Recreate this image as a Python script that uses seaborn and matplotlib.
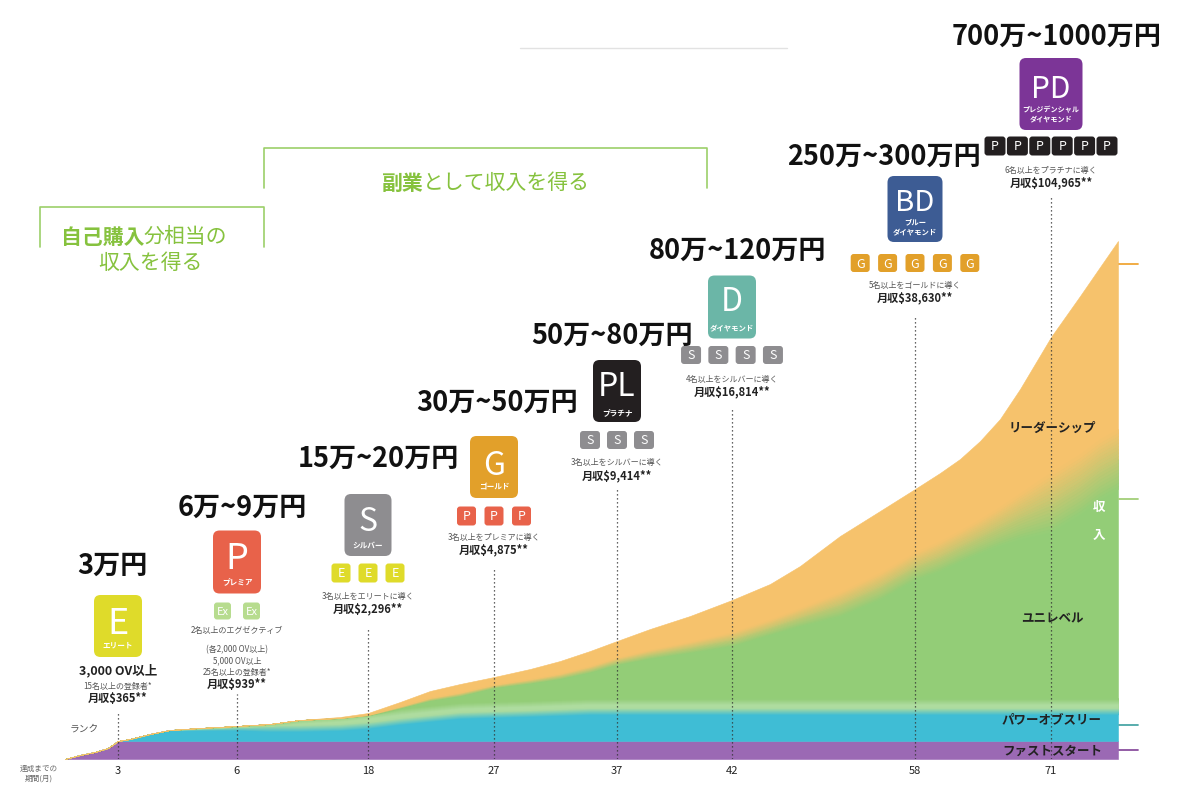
import numpy as np
import matplotlib
matplotlib.use("Agg")
import matplotlib.pyplot as plt
import matplotlib.colors as mcolors
from matplotlib.patches import FancyBboxPatch
import seaborn as sns

# ---------------- data ----------------
timeline = [0.00, 0.15, 0.30, 0.43, 0.53, 0.65, 0.85, 1.05, 1.35, 1.72, 2.05, 2.35,
            2.75, 3.03, 3.35, 3.65, 3.95, 4.29, 4.65, 4.95, 5.25, 5.52, 5.85, 6.25,
            6.67, 7.05, 7.35, 7.75, 8.15, 8.50, 8.75, 8.95, 9.15, 9.35, 9.55, 9.86,
            10.15, 10.35, 10.53]
fast_start = [0.00, 0.04, 0.07, 0.11, 0.18, 0.18, 0.18, 0.18, 0.18, 0.18, 0.18, 0.18,
              0.18, 0.18, 0.18, 0.18, 0.18, 0.18, 0.18, 0.18, 0.18, 0.18, 0.18, 0.18,
              0.18, 0.18, 0.18, 0.18, 0.18, 0.18, 0.18, 0.18, 0.18, 0.18, 0.18, 0.18,
              0.18, 0.18, 0.18]
power_of_three = [0.00, 0.00, 0.00, 0.00, 0.00, 0.02, 0.07, 0.11, 0.12, 0.13, 0.13, 0.13,
                  0.14, 0.16, 0.20, 0.23, 0.26, 0.27, 0.28, 0.29, 0.30, 0.30, 0.30, 0.30,
                  0.30, 0.30, 0.30, 0.30, 0.30, 0.30, 0.30, 0.30, 0.30, 0.30, 0.30, 0.30,
                  0.30, 0.30, 0.30]
unilevel = [0.00, 0.00, 0.00, 0.00, 0.00, 0.00, 0.00, 0.00, 0.01, 0.02, 0.04, 0.08,
            0.09, 0.10, 0.14, 0.19, 0.21, 0.28, 0.32, 0.36, 0.42, 0.50, 0.57, 0.64,
            0.72, 0.84, 0.94, 1.07, 1.25, 1.45, 1.55, 1.65, 1.75, 1.85, 1.95, 2.09,
            2.27, 2.42, 2.52]
leadership = [0.00, 0.00, 0.00, 0.00, 0.00, 0.00, 0.00, 0.00, 0.00, 0.00, 0.00, 0.00,
              0.01, 0.02, 0.05, 0.08, 0.10, 0.09, 0.12, 0.15, 0.18, 0.20, 0.25, 0.31,
              0.39, 0.43, 0.51, 0.68, 0.75, 0.77, 0.83, 0.87, 0.95, 1.07, 1.27, 1.65,
              1.88, 2.02, 2.18]
layer_names = ["ファストスタート", "パワーオブスリー", "ユニレベル", "リーダーシップ"]

rank_pos = [0.53, 1.72, 3.03, 4.29, 5.52, 6.67, 8.50, 9.86]
months = ["3", "6", "18", "27", "37", "42", "58", "71"]
rank_codes = ["E", "P", "S", "G", "PL", "D", "BD", "PD"]
rank_names = [["エリート"], ["プレミア"], ["シルバー"], ["ゴールド"], ["プラチナ"],
              ["ダイヤモンド"], ["ブルー", "ダイヤモンド"], ["プレジデンシャル", "ダイヤモンド"]]
income_ranges = ["3万円", "6万~9万円", "15万~20万円", "30万~50万円", "50万~80万円",
                 "80万~120万円", "250万~300万円", "700万~1000万円"]
requirements = [
    ["3,000 OV以上", "15名以上の登録者*"],
    ["2名以上のエグゼクティブ", "(各2,000 OV以上)", "5,000 OV以上", "25名以上の登録者*"],
    ["3名以上をエリートに導く"],
    ["3名以上をプレミアに導く"],
    ["3名以上をシルバーに導く"],
    ["4名以上をシルバーに導く"],
    ["5名以上をゴールドに導く"],
    ["6名以上をプラチナに導く"],
]
monthly_income = ["月収$365**", "月収$939**", "月収$2,296**", "月収$4,875**",
                  "月収$9,414**", "月収$16,814**", "月収$38,630**", "月収$104,965**"]
sub_badges = [[], ["Ex", "Ex"], ["E", "E", "E"], ["P", "P", "P"], ["S", "S", "S"],
              ["S", "S", "S", "S"], ["G", "G", "G", "G", "G"],
              ["P", "P", "P", "P", "P", "P"]]

# ---------------- styles / layout ----------------
layer_colors = ["#9b69b4", "#3fbdd5", "#93cd77", "#f6c26c"]
badge_colors = ["#dfdb2a", "#e8624a", "#8e8d90", "#e2a02a", "#231f20", "#6bb6a7",
                "#3d5c94", "#7c3597"]
sub_colors = [None, "#b7dc8f", "#dfdb2a", "#e8624a", "#8e8d90", "#8e8d90", "#e2a02a", "#231f20"]

def X(px):
    return (px - 65) / 100.0

def Y(py):
    return (760 - py) / 100.0

badge_cy = [627, 563, 526, 468, 392, 308, 210, 95]
badge_w = [48, 48, 47, 48, 48, 48, 55, 63]
badge_h = [62, 63, 62, 62, 62, 63, 66, 72]
letter_size = [26, 26, 23, 23, 23, 23, 21, 21.5]
letter_base = [634, 569, 531, 475, 396, 311, 211, 98]
name_y = [[645], [582], [545], [487], [413], [329], [222, 233], [110, 119]]
name_size = [5.5, 5.5, 5.5, 5.5, 5.5, 5.3, 5.3, 5.1]
sub_cy = [None, 612, 574, 517, 441, 356, 264, 147]
sub_gap = [0, 29, 27, 27.5, 27, 27.3, 27.4, 22.4]
sub_w = [0, 17, 19, 19, 20, 20, 19, 21]
sub_h = [0, 17, 19, 19, 18, 18, 18, 19]
req_y = [[671, 686], [630, 650, 661, 672], [596], [537], [462], [379], [285], [170]]
inc_y = [699, 685, 609, 550, 476, 392, 298, 183]
range_x = [112, 242, 378, 497, 612, 738, 884, 1057]
range_y = [566, 508, 459, 403, 336, 251, 157, 37]
dotted_top = [712, 695, 628, 570, 490, 408, 318, 198]

sns.set_theme(style="white")
plt.rcParams["font.family"] = ["Noto Sans CJK JP", "DejaVu Sans"]

fig = plt.figure(figsize=(11.96, 8.04), dpi=100)
ax = fig.add_axes([65 / 1196, 44 / 804, 1055 / 1196, 760 / 804])
ax.set_xlim(0, 10.55)
ax.set_ylim(0, 7.60)

x = np.array(timeline)
fs = np.array(fast_start)
p3 = np.array(power_of_three)
ul = np.array(unilevel)
ls = np.array(leadership)

polys = ax.stackplot(x, fs, p3, ul, ls, colors=layer_colors, labels=layer_names, zorder=1)
for p, c in zip(polys, layer_colors):
    p.set_edgecolor(c)
    p.set_linewidth(0.4)

def soft_edge(edge, lower, upper, width, bottom, top, n=18):
    c0 = np.array(mcolors.to_rgb(lower))
    c1 = np.array(mcolors.to_rgb(upper))
    for k in range(n):
        t = (k + 0.5) / n
        y0 = np.clip(edge - width / 2 + width * k / n, bottom, top)
        y1 = np.clip(edge - width / 2 + width * (k + 1) / n, bottom, top)
        col = c0 * (1 - t) + c1 * t
        ax.fill_between(x, y0, y1, color=col, ec=col, lw=0.3, zorder=2)

base = fs + p3
b_top = base + ul
total = b_top + ls
light = "#aedc9f"
band = np.minimum(ul, 0.10)
ax.fill_between(x, base, base + band, color=light, ec=light, lw=0.3, zorder=2)
soft_edge(base, layer_colors[1], light, np.minimum(0.07, 2 * ul), fs, base + band)
soft_edge(base + band, light, layer_colors[2], np.minimum(0.06, ul), base, b_top)
soft_edge(b_top, layer_colors[2], layer_colors[3], np.minimum(0.36 * ls, 0.6), base, total)

# dotted guide lines
ax.vlines(rank_pos, 0, [Y(v) for v in dotted_top], colors="#333333", lw=0.9,
          linestyles=(0, (1, 2.2)), zorder=4)

# layer labels
layer_label_y = [751, 720, 619, 428]
for name, yy in zip(layer_names, layer_label_y):
    ax.text(rank_pos[-1] + 0.01, Y(yy), name, ha="center", va="center", fontsize=9,
            fontweight="bold", color="#222222", zorder=6)
ax.text(X(1099), Y(508), "収", ha="center", va="center", fontsize=9, fontweight="bold",
        color="white", zorder=6)
ax.text(X(1099), Y(535), "入", ha="center", va="center", fontsize=9, fontweight="bold",
        color="white", zorder=6)

# right markers
for yy, c in zip([751, 726, 500, 265], ["#8a4f9e", "#4aa6a6", "#a3cf78", "#f0a636"]):
    ax.plot([X(1119), X(1138)], [Y(yy), Y(yy)], color=c, lw=1.3, clip_on=False, zorder=3)

# badges
for i, code in enumerate(rank_codes):
    cx = rank_pos[i]
    w = badge_w[i] / 100
    h = badge_h[i] / 100
    cy = Y(badge_cy[i])
    ax.add_patch(FancyBboxPatch((cx - w / 2, cy - h / 2), w, h,
                                boxstyle="round,pad=0,rounding_size=0.065",
                                fc=badge_colors[i], ec="none", zorder=5, clip_on=False))
    ax.text(cx, Y(letter_base[i]), code, ha="center", va="baseline",
            fontsize=letter_size[i], color="white", zorder=6)
    for nm, ny in zip(rank_names[i], name_y[i]):
        ax.text(cx, Y(ny), nm, ha="center", va="center", fontsize=name_size[i],
                fontweight="bold", color="white", zorder=6)
    # sub badges
    n = len(sub_badges[i])
    for k, s in enumerate(sub_badges[i]):
        sx = cx + (k - (n - 1) / 2) * sub_gap[i] / 100
        sw = sub_w[i] / 100
        sh = sub_h[i] / 100
        sy = Y(sub_cy[i])
        ax.add_patch(FancyBboxPatch((sx - sw / 2, sy - sh / 2), sw, sh,
                                    boxstyle="round,pad=0,rounding_size=0.03",
                                    fc=sub_colors[i], ec="none", zorder=5, clip_on=False))
        ax.text(sx, sy, s, ha="center", va="center", fontsize=8 if s == "Ex" else 9,
                color="white", zorder=6)
    # requirement text
    for j, (line, yy) in enumerate(zip(requirements[i], req_y[i])):
        strong = (i == 0 and j == 0)
        ax.text(cx, Y(yy), line, ha="center", va="center",
                fontsize=9 if strong else 5.8,
                fontweight="bold" if strong else "normal",
                color="#222222" if strong else "#555555", zorder=6, clip_on=False)
    ax.text(cx, Y(inc_y[i]), monthly_income[i], ha="center", va="center", fontsize=8,
            fontweight="bold", color="#222222", zorder=6)
    # income range
    ax.text(X(range_x[i]), Y(range_y[i]), income_ranges[i], ha="center", va="center",
            fontsize=19.5, fontweight="bold", color="#111111", zorder=6)

# green brackets
gcol = "#9ccf6a"
tcol = "#86c23e"
ax.plot([X(40), X(40), X(264), X(264)], [Y(248), Y(208), Y(208), Y(248)], color=gcol,
        lw=1.2, clip_on=False)
ax.plot([X(264), X(264), X(707), X(707)], [Y(189), Y(149), Y(149), Y(189)], color=gcol,
        lw=1.2, clip_on=False)
ax.text(X(144), Y(237), "自己購入", ha="right", va="center", fontsize=15,
        fontweight="bold", color=tcol, clip_on=False)
ax.text(X(144), Y(237), "分相当の", ha="left", va="center", fontsize=15,
        color=tcol, clip_on=False)
ax.text(X(150), Y(263), "収入を得る", ha="center", va="center", fontsize=15,
        color=tcol, clip_on=False)
ax.text(X(423), Y(183), "副業", ha="right", va="center", fontsize=15,
        fontweight="bold", color=tcol)
ax.text(X(423), Y(183), "として収入を得る", ha="left", va="center", fontsize=15,
        color=tcol)

# thin top rule
ax.plot([X(520), X(787)], [Y(49), Y(49)], color="#e2e2e2", lw=1.0)

# axis text
ax.text(X(84), Y(729), "ランク", ha="center", va="center", fontsize=7, color="#555555")
ax.text(X(39), Y(769), "達成までの", ha="center", va="center", fontsize=5.5,
        color="#666666", clip_on=False)
ax.text(X(39), Y(779), "期間(月)", ha="center", va="center", fontsize=5.5,
        color="#666666", clip_on=False)

ax.set_xticks(rank_pos)
ax.set_xticklabels(months)
ax.set_yticks([])
ax.tick_params(axis="x", length=0, labelsize=8, colors="#222222", pad=4)
sns.despine(ax=ax, left=True, bottom=True)
ax.set_facecolor("white")

fig.savefig("out.png", dpi=100, facecolor="white")
